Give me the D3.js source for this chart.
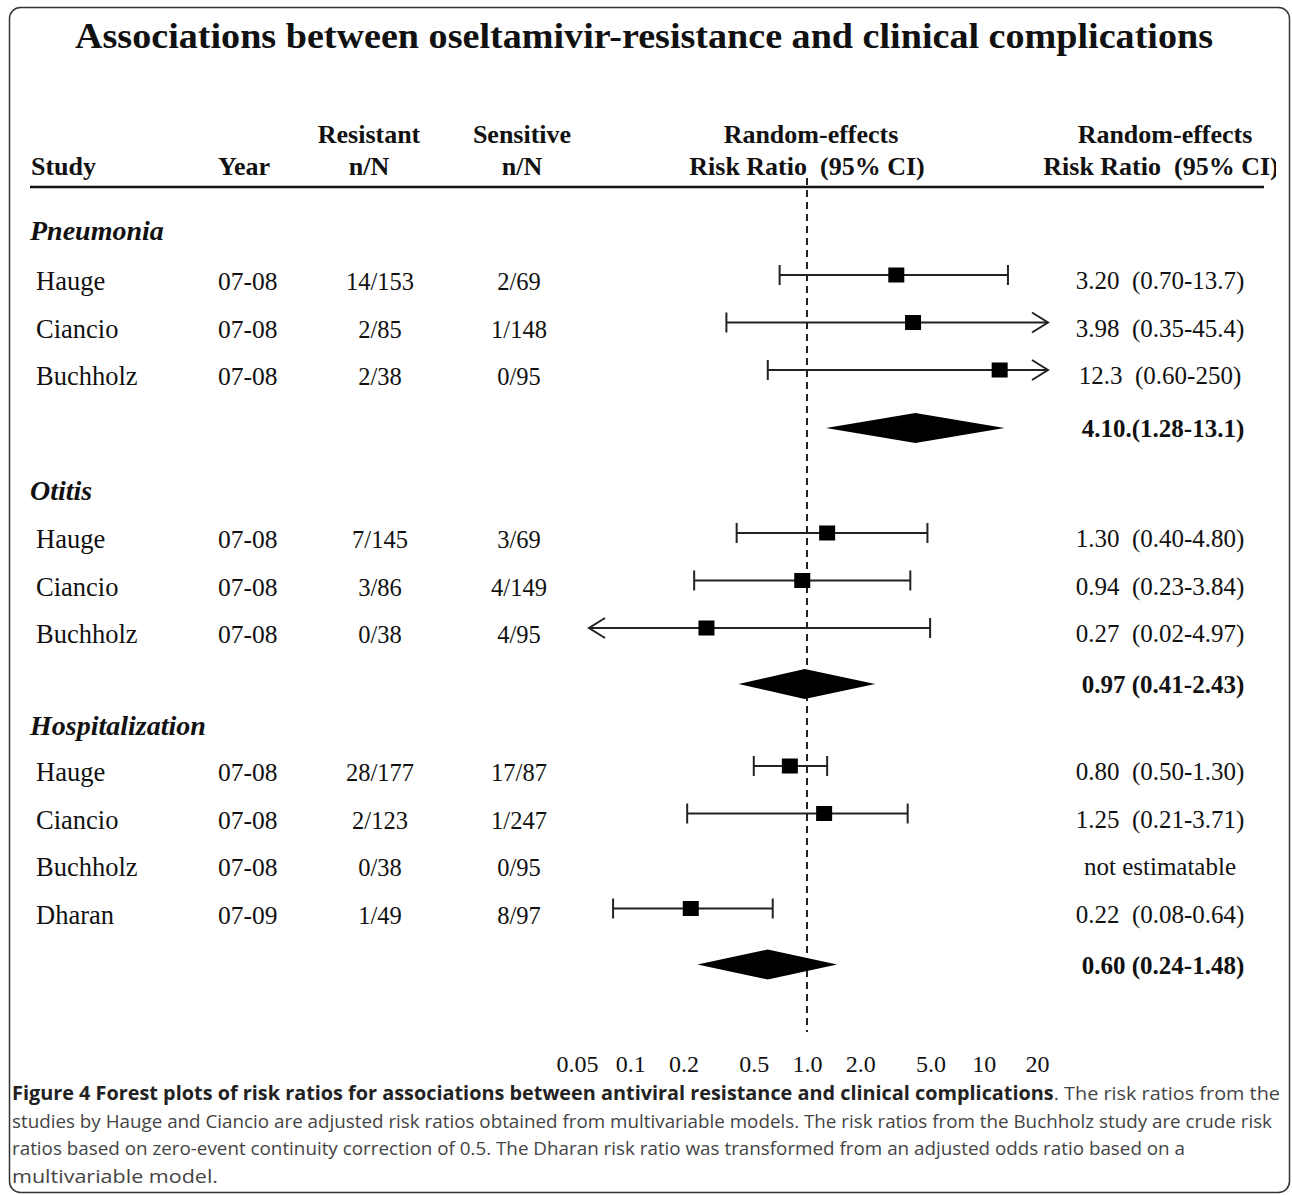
<!DOCTYPE html>
<html>
<head>
<meta charset="utf-8">
<script src="https://cdn.jsdelivr.net/npm/d3@7"></script>
<style>
  html, body { margin: 0; padding: 0; background: #fff; }
  svg { display: block; }
  text { white-space: pre; }
</style>
</head>
<body>
<svg id="chart" width="1292" height="1195"></svg>
<script>
// ---------------- DATA ----------------
const sections = ["Pneumonia", "Otitis", "Hospitalization"];
const rowSection = [0, 0, 0, 1, 1, 1, 2, 2, 2, 2];
const rowStudy = ["Hauge", "Ciancio", "Buchholz", "Hauge", "Ciancio", "Buchholz", "Hauge", "Ciancio", "Buchholz", "Dharan"];
const rowYear = ["07-08", "07-08", "07-08", "07-08", "07-08", "07-08", "07-08", "07-08", "07-08", "07-09"];
const rowResistant = ["14/153", "2/85", "2/38", "7/145", "3/86", "0/38", "28/177", "2/123", "0/38", "1/49"];
const rowSensitive = ["2/69", "1/148", "0/95", "3/69", "4/149", "4/95", "17/87", "1/247", "0/95", "8/97"];
const rowRR = [3.20, 3.98, 12.3, 1.30, 0.94, 0.27, 0.80, 1.25, null, 0.22];
const rowLo = [0.70, 0.35, 0.60, 0.40, 0.23, 0.02, 0.50, 0.21, null, 0.08];
const rowHi = [13.7, 45.4, 250, 4.80, 3.84, 4.97, 1.30, 3.71, null, 0.64];
const rowLabel = ["3.20  (0.70-13.7)", "3.98  (0.35-45.4)", "12.3  (0.60-250)", "1.30  (0.40-4.80)", "0.94  (0.23-3.84)", "0.27  (0.02-4.97)", "0.80  (0.50-1.30)", "1.25  (0.21-3.71)", "not estimatable", "0.22  (0.08-0.64)"];
const pooledRR = [4.10, 0.97, 0.60];
const pooledLo = [1.28, 0.41, 0.24];
const pooledHi = [13.1, 2.43, 1.48];
const pooledLabel = ["4.10.(1.28-13.1)", "0.97 (0.41-2.43)", "0.60 (0.24-1.48)"];
const tickValues = [0.05, 0.1, 0.2, 0.5, 1, 2, 5, 10, 20];
const tickLabels = ["0.05", "0.1", "0.2", "0.5", "1.0", "2.0", "5.0", "10", "20"];
const titleText = "Associations between oseltamivir-resistance and clinical complications";
const captionBold = "Figure 4 Forest plots of risk ratios for associations between antiviral resistance and clinical complications";
const captionLines = [
  ". The risk ratios from the",
  "studies by Hauge and Ciancio are adjusted risk ratios obtained from multivariable models. The risk ratios from the Buchholz study are crude risk",
  "ratios based on zero-event continuity correction of 0.5. The Dharan risk ratio was transformed from an adjusted odds ratio based on a",
  "multivariable model."
];

// ---------------- LAYOUT ----------------
const serif = "'Liberation Serif', 'Times New Roman', serif";
const sans = "'Open Sans', 'Noto Sans', sans-serif";
const ink = "#111";
const sectionLabelY = [240, 500, 735];
const rowOffset = [35, 33, 31], rowStep = 47.5, pooledGap = [58, 56, 56];

const svg = d3.select("#chart");

// frame
svg.append("rect")
  .attr("x", 9.5).attr("y", 7.5).attr("width", 1280).attr("height", 1185)
  .attr("rx", 11).attr("ry", 11)
  .attr("fill", "none").attr("stroke", "#333").attr("stroke-width", 1.5);

// x scale (log)
const x = d3.scaleLog().domain([0.05, 20]).range([577, 1037]);
const clipLoPx = x(0.05) + 12, clipHiPx = x(20) + 11;

// title
svg.append("text")
  .attr("x", 644).attr("y", 48)
  .attr("text-anchor", "middle")
  .attr("font-family", serif).attr("font-weight", "bold").attr("font-size", 35)
  .attr("textLength", 1138).attr("lengthAdjust", "spacingAndGlyphs")
  .attr("fill", ink)
  .text(titleText);

// column headers
const hdr = (tx, ty, anchor, str) => svg.append("text")
  .attr("x", tx).attr("y", ty).attr("text-anchor", anchor)
  .attr("font-family", serif).attr("font-weight", "bold").attr("font-size", 26)
  .attr("fill", ink).text(str);
hdr(31, 175, "start", "Study");
hdr(218, 175, "start", "Year");
hdr(369, 143, "middle", "Resistant");
hdr(369, 175, "middle", "n/N");
hdr(522, 143, "middle", "Sensitive");
hdr(522, 175, "middle", "n/N");
hdr(811, 143, "middle", "Random-effects");
hdr(807, 175, "middle", "Risk Ratio  (95% CI)");
hdr(1165, 143, "middle", "Random-effects");
svg.append("clipPath").attr("id", "hclip").append("rect")
  .attr("x", 1000).attr("y", 100).attr("width", 276).attr("height", 100);
hdr(1161, 175, "middle", "Risk Ratio  (95% CI)").attr("clip-path", "url(#hclip)");

// header rule
svg.append("line")
  .attr("x1", 30).attr("x2", 1264).attr("y1", 187).attr("y2", 187)
  .attr("stroke", ink).attr("stroke-width", 2.5);

// reference line at 1.0
svg.append("line")
  .attr("x1", x(1)).attr("x2", x(1)).attr("y1", 178).attr("y2", 1032)
  .attr("stroke", "#222").attr("stroke-width", 2).attr("stroke-dasharray", "7,5");

// row positions
const rowIdxInSection = rowSection.map((s, i) => rowSection.slice(0, i).filter(v => v === s).length);
const rowY = rowSection.map((s, i) => sectionLabelY[s] + rowOffset[s] + rowIdxInSection[i] * rowStep);
const pooledY = sections.map((s, k) => {
  const last = d3.max(rowY.filter((_, i) => rowSection[i] === k));
  return last + pooledGap[k];
});

// section labels
svg.selectAll("text.section").data(sections).join("text")
  .attr("class", "section")
  .attr("x", 30).attr("y", (d, i) => sectionLabelY[i])
  .attr("font-family", serif).attr("font-weight", "bold").attr("font-style", "italic")
  .attr("font-size", 28).attr("fill", ink)
  .text(d => d);

const rows = rowStudy.map((s, i) => i);
const rowText = (cls, tx, anchor, size, acc) => svg.selectAll("text." + cls).data(rows).join("text")
  .attr("class", cls)
  .attr("x", tx).attr("y", i => rowY[i] + 15)
  .attr("text-anchor", anchor)
  .attr("font-family", serif).attr("font-size", size).attr("fill", ink)
  .text(acc);
rowText("study", 36, "start", 26.5, i => rowStudy[i]);
rowText("year", 218, "start", 25.5, i => rowYear[i]);
rowText("res", 380, "middle", 24.5, i => rowResistant[i]);
rowText("sen", 519, "middle", 24.5, i => rowSensitive[i]);
svg.selectAll("text.rr").data(rows).join("text")
  .attr("class", "rr")
  .attr("x", 1160).attr("y", i => rowY[i] + 14)
  .attr("text-anchor", "middle")
  .attr("font-family", serif).attr("font-size", 25).attr("fill", ink)
  .text(i => rowLabel[i]);

// pooled labels
svg.selectAll("text.pooled").data(sections).join("text")
  .attr("class", "pooled")
  .attr("x", 1163).attr("y", (d, k) => pooledY[k] + 9)
  .attr("text-anchor", "middle")
  .attr("font-family", serif).attr("font-weight", "bold").attr("font-size", 25).attr("fill", ink)
  .text((d, k) => pooledLabel[k]);

// CI lines
const est = rows.filter(i => rowRR[i] != null);
const g = svg.append("g").attr("stroke", "#222").attr("stroke-width", 2).attr("fill", "none");
est.forEach(i => {
  const y = rowY[i];
  const xl = x(rowLo[i]), xh = x(rowHi[i]);
  const left = Math.max(xl, clipLoPx), right = Math.min(xh, clipHiPx);
  g.append("line").attr("x1", left).attr("x2", right).attr("y1", y).attr("y2", y);
  if (xl >= clipLoPx) {
    g.append("line").attr("x1", left).attr("x2", left).attr("y1", y - 10).attr("y2", y + 10);
  } else {
    g.append("path").attr("d", `M${left + 16},${y - 10}L${left},${y}L${left + 16},${y + 10}`);
  }
  if (xh <= clipHiPx) {
    g.append("line").attr("x1", right).attr("x2", right).attr("y1", y - 10).attr("y2", y + 10);
  } else {
    g.append("path").attr("d", `M${right - 16},${y - 10}L${right},${y}L${right - 16},${y + 10}`);
  }
});

// squares
svg.selectAll("rect.pt").data(est).join("rect")
  .attr("class", "pt")
  .attr("x", i => x(rowRR[i]) - 8).attr("y", i => rowY[i] - 7.5)
  .attr("width", 16).attr("height", 15)
  .attr("fill", "#000");

// diamonds
svg.selectAll("path.diamond").data(sections).join("path")
  .attr("class", "diamond")
  .attr("d", (d, k) => {
    const y = pooledY[k];
    return `M${x(pooledLo[k])},${y}L${x(pooledRR[k])},${y - 15}L${x(pooledHi[k])},${y}L${x(pooledRR[k])},${y + 15}Z`;
  })
  .attr("fill", "#000");

// axis (labels only)
const axis = d3.axisBottom(x)
  .tickValues(tickValues)
  .tickFormat((d, i) => tickLabels[i])
  .tickSize(0).tickPadding(0);
const ax = svg.append("g").attr("transform", "translate(0,1072)").call(axis);
ax.select(".domain").remove();
ax.selectAll("text")
  .attr("dy", 0).attr("y", 0)
  .attr("font-family", serif).attr("font-size", 24).attr("fill", ink);

// caption
const cap = svg.append("g").attr("font-family", sans).attr("font-size", 19);
const widths = [1268, 1260, 1173, 206];
const c1 = cap.append("text").attr("x", 12).attr("y", 1100)
  .attr("textLength", widths[0]).attr("lengthAdjust", "spacingAndGlyphs");
c1.append("tspan").attr("font-weight", "bold").attr("fill", "#222").text(captionBold);
c1.append("tspan").attr("fill", "#444").text(captionLines[0]);
[1, 2, 3].forEach(j => {
  cap.append("text").attr("x", 12).attr("y", 1100 + j * 27.5).attr("fill", "#444")
    .attr("textLength", widths[j]).attr("lengthAdjust", "spacingAndGlyphs")
    .text(captionLines[j]);
});
</script>
</body>
</html>
